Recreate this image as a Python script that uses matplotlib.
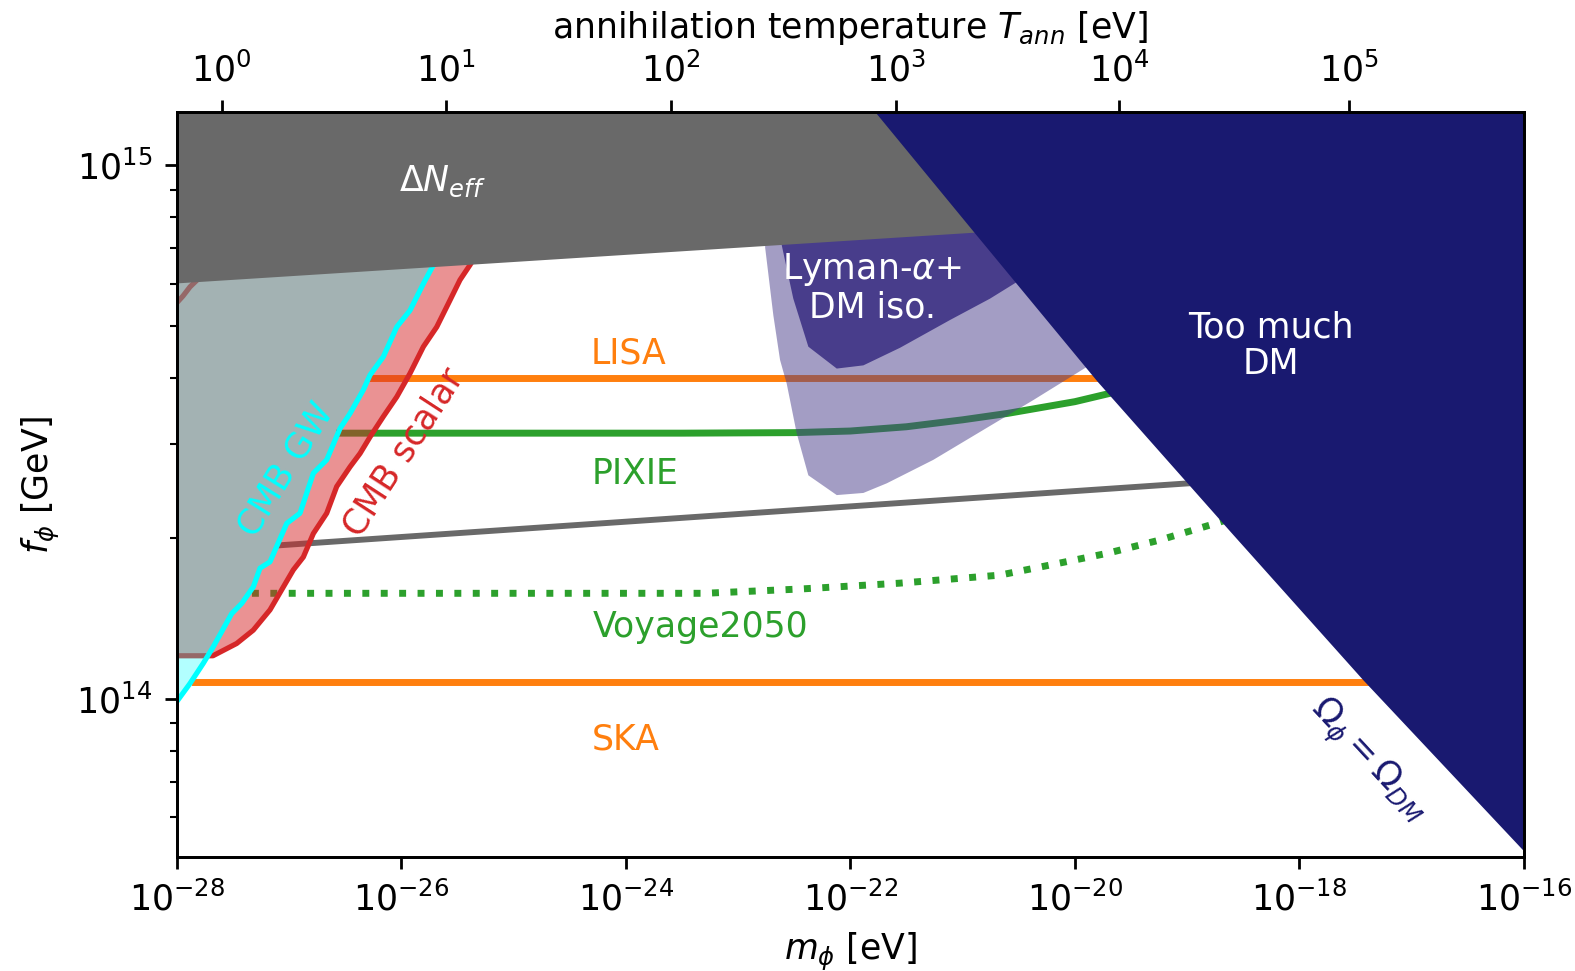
import numpy as np
import matplotlib
matplotlib.use("Agg")
import matplotlib.pyplot as plt
from matplotlib.ticker import NullLocator, NullFormatter

# ---------------------------------------------------------------------------
# Data (all values are log10 of m_phi [eV] and f_phi [GeV])
# ---------------------------------------------------------------------------
xlim_log = (-28.0, -16.0)
ylim_log = (13.704, 15.099)
x_major_exp = [-28, -26, -24, -22, -20, -18, -16]

# annihilation temperature ticks: T_ann = 10^k eV located at these masses
t_ann_exp = [0, 1, 2, 3, 4, 5]
t_ann_logm = [-27.601, -25.601, -23.597, -21.596, -19.604, -17.558]

# Delta N_eff excluded region (lower edge)
dneff_logm = [-28.0, -16.0]
dneff_logf = [14.7785, 14.939]

# Omega_phi = Omega_DM boundary (too much dark matter above it)
dm_logm = [-22.17, -21.78, -20.9, -19.8, -18.6, -17.43, -16.0]
dm_logf = [15.20, 15.10, 14.875, 14.595, 14.31, 14.035, 13.715]

# Lyman-alpha + DM isocurvature: weaker (light) and stronger (dark) bounds
lya_light_logm = [-22.759, -22.759, -22.686, -22.626, -22.567, -22.478, -22.374,
                  -22.121, -21.884, -21.676, -21.261, -20.816, -20.370, -19.925,
                  -19.687, -19.687]
lya_light_logf = [14.869, 14.846, 14.719, 14.635, 14.591, 14.498, 14.419,
                  14.382, 14.386, 14.404, 14.448, 14.504, 14.560, 14.618,
                  14.650, 14.869]
lya_dark_logm = [-22.611, -22.611, -22.508, -22.374, -22.121, -21.884, -21.557,
                 -21.112, -20.756, -20.518, -20.132, -20.132]
lya_dark_logf = [14.888, 14.850, 14.750, 14.660, 14.619, 14.625, 14.658,
                 14.710, 14.750, 14.781, 14.841, 14.888]

# CMB tensor (gravitational wave) bound
cmb_gw_logm = [-28.000, -27.882, -27.763, -27.674, -27.510, -27.421, -27.318,
               -27.258, -27.169, -27.020, -26.902, -26.783, -26.664, -26.545,
               -26.456, -26.338, -26.278, -26.160, -26.040, -25.922, -25.803,
               -25.729, -25.610]
cmb_gw_logf = [13.995, 14.029, 14.067, 14.098, 14.160, 14.179, 14.210,
               14.245, 14.257, 14.329, 14.348, 14.423, 14.448, 14.507,
               14.535, 14.579, 14.607, 14.641, 14.697, 14.728, 14.778,
               14.807, 14.850]

# CMB scalar (isocurvature) bound
cmb_sc_logm = [-28.000, -27.677, -27.466, -27.318, -27.169, -27.050, -26.961,
               -26.872, -26.783, -26.664, -26.575, -26.456, -26.367, -26.278,
               -26.160, -26.040, -25.922, -25.803, -25.684, -25.566, -25.477,
               -25.388, -25.281]
cmb_sc_logf = [14.081, 14.081, 14.104, 14.129, 14.167, 14.210, 14.242,
               14.266, 14.310, 14.348, 14.398, 14.435, 14.460, 14.491,
               14.529, 14.566, 14.610, 14.660, 14.697, 14.747, 14.785,
               14.813, 14.850]
cmb_sc_corner_logm = [-28.0, -27.944, -27.882, -27.828]
cmb_sc_corner_logf = [14.742, 14.755, 14.772, 14.783]

# future sensitivities
lisa_logm = [-26.278, -17.0]
lisa_logf = [14.602, 14.602]

pixie_logm = [-26.55, -23.5, -22.5, -22.0, -21.5, -21.0, -20.6, -20.0, -19.7, -19.3]
pixie_logf = [14.498, 14.498, 14.499, 14.502, 14.510, 14.523, 14.535, 14.557,
              14.572, 14.592]

dneff_future_logm = [-27.08, -18.5]
dneff_future_logf = [14.288, 14.411]

voyage_logm = [-27.33, -23.3, -22.45, -21.56, -20.67, -20.22, -19.71, -19.24,
               -18.73, -18.3]
voyage_logf = [14.198, 14.198, 14.206, 14.217, 14.232, 14.251, 14.273, 14.298,
               14.330, 14.36]

ska_logm = [-27.837, -16.5]
ska_logf = [14.032, 14.032]

# ---------------------------------------------------------------------------
plt.rcParams["font.family"] = "DejaVu Sans"
plt.rcParams["font.size"] = 10
plt.rcParams["mathtext.fontset"] = "dejavusans"

GRAY = "#696969"
NAVY = "#191970"
SLATE = "#483D8B"
RED = "#d62728"
CYAN = "#00ffff"
ORANGE = "#ff7f0e"
GREEN = "#2ca02c"


def p(lm, lf):
    return 10 ** np.asarray(lm, float), 10 ** np.asarray(lf, float)


fig = plt.figure(figsize=(6.3, 3.884), dpi=250)
ax = fig.add_axes([0.1122, 0.1174, 0.8554, 0.7669])
ax.set_xscale("log")
ax.set_yscale("log")

# future sensitivity curves
ax.plot(*p(lisa_logm, lisa_logf), color=ORANGE, lw=2, zorder=1)
ax.plot(*p(pixie_logm, pixie_logf), color=GREEN, lw=2, zorder=1)
ax.plot(*p(dneff_future_logm, dneff_future_logf), color=GRAY, lw=1.7, zorder=1)
ax.plot(*p(voyage_logm, voyage_logf), color=GREEN, lw=2, ls=":", zorder=1)
ax.plot(*p(ska_logm, ska_logf), color=ORANGE, lw=2, zorder=1)

# CMB scalar region
sc_x = list(cmb_sc_logm) + [-28.0]
sc_y = list(cmb_sc_logf) + [cmb_sc_logf[-1]]
ax.fill(*p(sc_x, sc_y), color=RED, alpha=0.5, lw=0, zorder=2)
ax.plot(*p(cmb_sc_logm, cmb_sc_logf), color=RED, lw=1.5, zorder=2.1)
ax.plot(*p(cmb_sc_corner_logm, cmb_sc_corner_logf), color=RED, lw=1.5, zorder=2.1)

# CMB GW region
gw_x = list(cmb_gw_logm) + [-28.0]
gw_y = list(cmb_gw_logf) + [cmb_gw_logf[-1]]
ax.fill(*p(gw_x, gw_y), color=CYAN, alpha=0.3, lw=0, zorder=3)
ax.plot(*p(cmb_gw_logm, cmb_gw_logf), color=CYAN, lw=1.5, zorder=3.1)

# Lyman-alpha + DM isocurvature
ax.fill(*p(lya_light_logm, lya_light_logf), color=SLATE, alpha=0.5, lw=0, zorder=4)
ax.fill(*p(lya_dark_logm, lya_dark_logf), color=SLATE, alpha=1.0, lw=0, zorder=4.1)

# Delta N_eff
dn_x = list(dneff_logm) + [dneff_logm[-1], dneff_logm[0]]
dn_y = list(dneff_logf) + [15.3, 15.3]
ax.fill(*p(dn_x, dn_y), color=GRAY, lw=0, zorder=5)

# too much dark matter
dm_x = list(dm_logm) + [-16.0]
dm_y = list(dm_logf) + [15.3]
ax.fill(*p(dm_x, dm_y), color=NAVY, lw=0, zorder=6)

# labels
def lbl(lm, lf, s, **kw):
    ax.text(10 ** lm, 10 ** lf, s, ha="center", va="center", zorder=8,
            fontsize=10, **kw)

lbl(-25.637, 14.970, r"$\Delta N_{eff}$", color="white")
lbl(-21.807, 14.770, "Lyman-$\\alpha$+\nDM iso.", color="white", linespacing=1.1)
lbl(-18.256, 14.662, "Too much\nDM", color="white", linespacing=1.1)
lbl(-23.973, 14.647, "LISA", color=ORANGE)
lbl(-23.920, 14.421, "PIXIE", color=GREEN)
lbl(-23.338, 14.135, "Voyage2050", color=GREEN)
lbl(-24.000, 13.9245, "SKA", color=ORANGE)
lbl(-27.03, 14.4305, "CMB GW", color=CYAN, rotation=58)
lbl(-25.975, 14.4625, "CMB scalar", color=RED, rotation=57)
lbl(-17.389, 13.885, r"$\Omega_\phi = \Omega_{DM}$", color=NAVY, rotation=-47)

ax.set_xlim(10 ** xlim_log[0], 10 ** xlim_log[1])
ax.set_ylim(10 ** ylim_log[0], 10 ** ylim_log[1])
ax.set_xticks([10.0 ** e for e in x_major_exp])
ax.set_xticklabels([f"$10^{{{e}}}$" for e in x_major_exp])
ax.xaxis.set_minor_locator(NullLocator())
ax.yaxis.set_minor_formatter(NullFormatter())
ax.set_xlabel(r"$m_\phi$ [eV]")
ax.set_ylabel(r"$f_\phi$ [GeV]")

ax2 = ax.twiny()
ax2.set_xscale("log")
ax2.set_xlim(ax.get_xlim())
ax2.set_xticks([10.0 ** v for v in t_ann_logm])
ax2.set_xticklabels([f"$10^{{{k}}}$" for k in t_ann_exp])
ax2.xaxis.set_minor_locator(NullLocator())
ax2.set_xlabel(r"annihilation temperature $T_{ann}$ [eV]")

for a in (ax, ax2):
    for s in a.spines.values():
        s.set_zorder(10)

fig.savefig("out.png", dpi=250)
